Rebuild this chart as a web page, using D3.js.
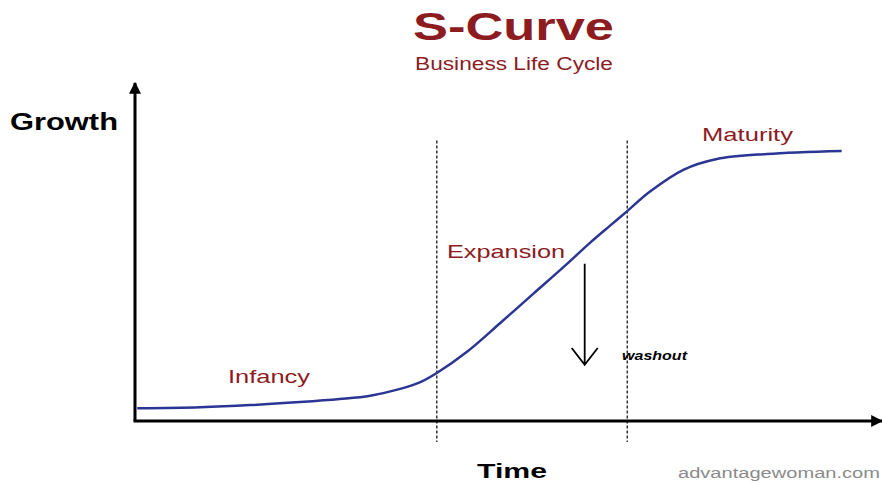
<!DOCTYPE html>
<html>
<head>
<meta charset="utf-8">
<script src="https://cdn.jsdelivr.net/npm/d3@7"></script>
<style>
  body { margin: 0; background: #fff; }
  svg { display: block; font-family: "Liberation Sans", Arial, sans-serif; }
</style>
</head>
<body>
<svg width="882" height="483"></svg>
<script>
// S-curve (time 0-100, growth 0-100)
var time = [0.3, 8.7, 15.4, 22.1, 27.4, 31.5, 35.5, 38.2, 40.4, 44.4, 48.9, 53.3, 57.8, 60.9, 63.6, 65.9, 68.9, 73.4, 77.9, 84.6, 94.6];
var growth = [3.8, 4.1, 4.7, 5.6, 6.5, 7.5, 9.5, 11.5, 14.2, 20.4, 29.0, 37.6, 46.4, 52.7, 57.8, 62.1, 67.8, 74.3, 77.5, 79.0, 79.9];
var phaseBounds = [40.4, 65.9];
var phaseNames = ["Infancy", "Expansion", "Maturity"];

var svg = d3.select("svg");
var red = "#8c1c1f";

var x = d3.scaleLinear().domain([0, 100]).range([135, 882]);
var y = d3.scaleLinear().domain([0, 100]).range([421, 83]);

var data = time.map(function (t, i) { return { t: t, g: growth[i] }; });

// titles
svg.append("text").attr("x", 413).attr("y", 40)
  .attr("font-size", 38).attr("font-weight", "bold").attr("fill", red)
  .attr("textLength", 201).attr("lengthAdjust", "spacingAndGlyphs")
  .text("S-Curve");
svg.append("text").attr("x", 415).attr("y", 70)
  .attr("font-size", 18).attr("fill", red)
  .attr("textLength", 198).attr("lengthAdjust", "spacingAndGlyphs")
  .text("Business Life Cycle");

// phase dividers
svg.selectAll(".phase").data(phaseBounds).enter().append("line")
  .attr("x1", function (d) { return x(d); }).attr("x2", function (d) { return x(d); })
  .attr("y1", y(83)).attr("y2", y(-6.2))
  .attr("stroke", "#333").attr("stroke-width", 1.5)
  .attr("stroke-dasharray", "3,2");

// axes with arrowheads
var defs = svg.append("defs");
defs.append("marker").attr("id", "tip")
  .attr("viewBox", "0 0 10 10").attr("refX", 9).attr("refY", 5)
  .attr("markerWidth", 4).attr("markerHeight", 4).attr("orient", "auto")
  .append("path").attr("d", "M0,0L10,5L0,10z").attr("fill", "#000");

svg.append("line").attr("x1", x(0)).attr("y1", y(0)).attr("x2", x(0)).attr("y2", y(100))
  .attr("stroke", "#000").attr("stroke-width", 3).attr("marker-end", "url(#tip)");
svg.append("line").attr("x1", x(0) - 1.5).attr("y1", y(0)).attr("x2", x(100)).attr("y2", y(0))
  .attr("stroke", "#000").attr("stroke-width", 3).attr("marker-end", "url(#tip)");

// curve
var line = d3.line()
  .x(function (d) { return x(d.t); })
  .y(function (d) { return y(d.g); })
  .curve(d3.curveCatmullRom);

svg.append("path").datum(data).attr("d", line)
  .attr("fill", "none").attr("stroke", "#2b3593").attr("stroke-width", 2.5);

// phase labels
var labelPos = [[228, 383, 82], [447, 258, 118], [702, 141, 91]];
svg.selectAll(".lbl").data(phaseNames).enter().append("text")
  .attr("x", function (d, i) { return labelPos[i][0]; })
  .attr("y", function (d, i) { return labelPos[i][1]; })
  .attr("textLength", function (d, i) { return labelPos[i][2]; })
  .attr("lengthAdjust", "spacingAndGlyphs")
  .attr("font-size", 19).attr("fill", red)
  .text(function (d) { return d; });

// washout arrow
var ax = x(60.2);
svg.append("path")
  .attr("d", "M" + ax + "," + y(46.5) + "V" + y(16.6) +
    "M" + (ax - 13) + "," + y(21.6) + "L" + ax + "," + y(16.6) + "L" + (ax + 13) + "," + y(21.6))
  .attr("fill", "none").attr("stroke", "#000").attr("stroke-width", 1.8);
svg.append("text").attr("x", 622).attr("y", 360)
  .attr("font-size", 12.5).attr("font-weight", "bold").attr("font-style", "italic")
  .attr("textLength", 65).attr("lengthAdjust", "spacingAndGlyphs")
  .text("washout");

// axis titles
svg.append("text").attr("x", 10).attr("y", 130)
  .attr("font-size", 24).attr("font-weight", "bold").attr("fill", "#000")
  .attr("textLength", 108).attr("lengthAdjust", "spacingAndGlyphs")
  .text("Growth");
svg.append("text").attr("x", 477).attr("y", 478)
  .attr("font-size", 21).attr("font-weight", "bold").attr("fill", "#000")
  .attr("textLength", 70).attr("lengthAdjust", "spacingAndGlyphs")
  .text("Time");
svg.append("text").attr("x", 678).attr("y", 478)
  .attr("font-size", 14).attr("fill", "#8a8a8a")
  .attr("textLength", 202).attr("lengthAdjust", "spacingAndGlyphs")
  .text("advantagewoman.com");
</script>
</body>
</html>
